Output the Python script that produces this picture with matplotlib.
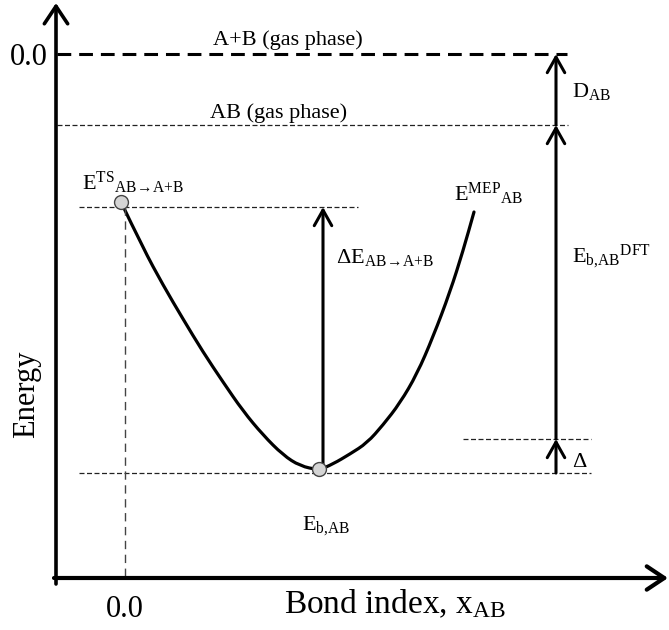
import matplotlib
matplotlib.use("Agg")
import matplotlib.pyplot as plt
from matplotlib.path import Path
from matplotlib.patches import PathPatch

plt.rcParams["font.family"] = ["Liberation Serif", "DejaVu Serif"]
plt.rcParams["mathtext.fontset"] = "custom"
plt.rcParams["mathtext.rm"] = "Liberation Serif"
plt.rcParams["mathtext.it"] = "Liberation Serif:italic"
plt.rcParams["mathtext.bf"] = "Liberation Serif:bold"

# Minimum-energy-path curve E_MEP(x_AB), arbitrary energy units
bond_index = [-0.04, 0.18, 0.38, 0.58, 0.78, 0.98, 1.18, 1.38, 1.58, 1.75, 1.94,
              2.08, 2.25, 2.42, 2.58, 2.75, 2.92, 3.08, 3.25, 3.38, 3.49]
mep_energy = [-1.48, -1.94, -2.31, -2.65, -2.98, -3.28, -3.57, -3.81, -4.01, -4.12, -4.16,
              -4.10, -4.00, -3.89, -3.71, -3.49, -3.20, -2.83, -2.38, -1.97, -1.58]

# Reference energy levels
e_atoms_gas = 0.0        # A+B (gas phase)
e_ab_gas = -0.71         # AB (gas phase)
e_ts = -1.53             # transition state level
e_dft_bottom = -3.85     # E_b,AB^DFT lower end
e_min = -4.19            # E_b,AB level

ts_point = (-0.04, -1.48)
min_point = (1.94, -4.15)

tick_values = [0.0]
tick_labels = ["0.0"]

fig = plt.figure(figsize=(6.69, 6.30), dpi=100)
ax = fig.add_axes([56 / 669, 52 / 630, 613 / 669, 578 / 630])
ax.set_xlim(-0.69, 5.44)
ax.set_ylim(-5.24, 0.54)
for s in ax.spines.values():
    s.set_visible(False)

# axes drawn as arrows
ax.annotate("", xy=(5.43, -5.24), xytext=(-0.71, -5.24), annotation_clip=False,
            arrowprops=dict(arrowstyle="->,head_length=0.9,head_width=0.6", lw=3.0,
                            color="black", shrinkA=0, shrinkB=0, mutation_scale=14))
ax.annotate("", xy=(-0.69, 0.51), xytext=(-0.69, -5.30), annotation_clip=False,
            arrowprops=dict(arrowstyle="->,head_length=0.9,head_width=0.6", lw=2.6,
                            color="black", shrinkA=0, shrinkB=0, mutation_scale=14))

ax.set_xticks(tick_values)
ax.set_xticklabels(tick_labels, fontsize=22)
ax.set_yticks(tick_values)
ax.set_yticklabels(tick_labels, fontsize=22)
ax.tick_params(length=0)
ax.tick_params(axis="x", pad=12)
ax.tick_params(axis="y", pad=6)

ax.set_xlabel(r"Bond index, x$_{\mathrm{AB}}$", fontsize=24)
ax.xaxis.set_label_coords(0.553, -0.016)
ax.set_ylabel("Energy", fontsize=22)
ax.yaxis.set_label_coords(-0.025, 0.318)

# energy levels
ax.plot([-0.68, 4.42], [e_atoms_gas] * 2, color="black", lw=2.2, dashes=(4.5, 2.6))
ax.plot([-0.68, 4.43], [e_ab_gas] * 2, color="#222222", lw=0.9, dashes=(4, 2))
ax.plot([-0.46, 2.33], [e_ts] * 2, color="#222222", lw=0.9, dashes=(4, 2))
ax.plot([-0.46, 4.66], [e_min] * 2, color="#222222", lw=0.9, dashes=(4, 2))
ax.plot([3.38, 4.66], [e_dft_bottom] * 2, color="#222222", lw=0.9, dashes=(4, 2))
ax.plot([0.0, 0.0], [e_ts, -5.24], color="#444444", lw=1.0, dashes=(6, 4))

# MEP curve as a smooth quadratic B-spline through the sampled points
pts = list(zip(bond_index, mep_energy))
verts = [pts[0]]
codes = [Path.MOVETO]
for i in range(1, len(pts) - 1):
    mid = ((pts[i][0] + pts[i + 1][0]) / 2, (pts[i][1] + pts[i + 1][1]) / 2)
    verts += [pts[i], mid]
    codes += [Path.CURVE3, Path.CURVE3]
verts.append(pts[-1])
codes.append(Path.LINETO)
ax.add_patch(PathPatch(Path(verts, codes), facecolor="none", edgecolor="black",
                       lw=2.3, capstyle="round", joinstyle="round"))

# stationary points
ax.plot(*ts_point, "o", ms=10, mfc="#d4d4d4", mec="#444444", mew=1.0, zorder=5)
ax.plot(*min_point, "o", ms=10, mfc="#d4d4d4", mec="#444444", mew=1.0, zorder=5)

# energy differences
arrow_kw = dict(arrowstyle="->,head_length=0.8,head_width=0.45", lw=2.2, color="black",
                shrinkA=0, shrinkB=0, mutation_scale=14)
ax.annotate("", xy=(1.98, e_ts), xytext=(1.98, min_point[1]), arrowprops=arrow_kw)
ax.annotate("", xy=(4.31, e_atoms_gas), xytext=(4.31, e_ab_gas), arrowprops=arrow_kw)
ax.annotate("", xy=(4.31, e_ab_gas), xytext=(4.31, e_dft_bottom), arrowprops=arrow_kw)
ax.annotate("", xy=(4.31, e_dft_bottom), xytext=(4.31, e_min), arrowprops=arrow_kw)

fs = 16
arrow_sub = r"\mathrm{AB}\!\rightarrow\!\mathrm{A}{+}\mathrm{B}"
ax.text(0.88, 0.09, "A+B (gas phase)", fontsize=fs, va="baseline")
ax.text(0.85, -0.64, "AB (gas phase)", fontsize=fs, va="baseline")
ax.text(-0.43, -1.36, r"E$^{\mathrm{TS}}{}_{" + arrow_sub + "}$", fontsize=fs,
        va="baseline")
ax.text(3.29, -1.47, r"E$^{\mathrm{MEP}}{}_{\mathrm{AB}}$", fontsize=fs, va="baseline")
ax.text(2.11, -2.09, r"ΔE$_{" + arrow_sub + "}$", fontsize=fs, va="baseline")
ax.text(4.47, -0.43, r"D$_{\mathrm{AB}}$", fontsize=fs, va="baseline")
ax.text(4.47, -2.08, r"E$_{\mathrm{b}{,}\mathrm{AB}}{}^{\mathrm{DFT}}$", fontsize=fs,
        va="baseline")
ax.text(4.47, -4.13, "Δ", fontsize=fs, va="baseline")
ax.text(1.77, -4.76, r"E$_{\mathrm{b}{,}\mathrm{AB}}$", fontsize=fs, va="baseline")

fig.savefig("out.png", dpi=100)
